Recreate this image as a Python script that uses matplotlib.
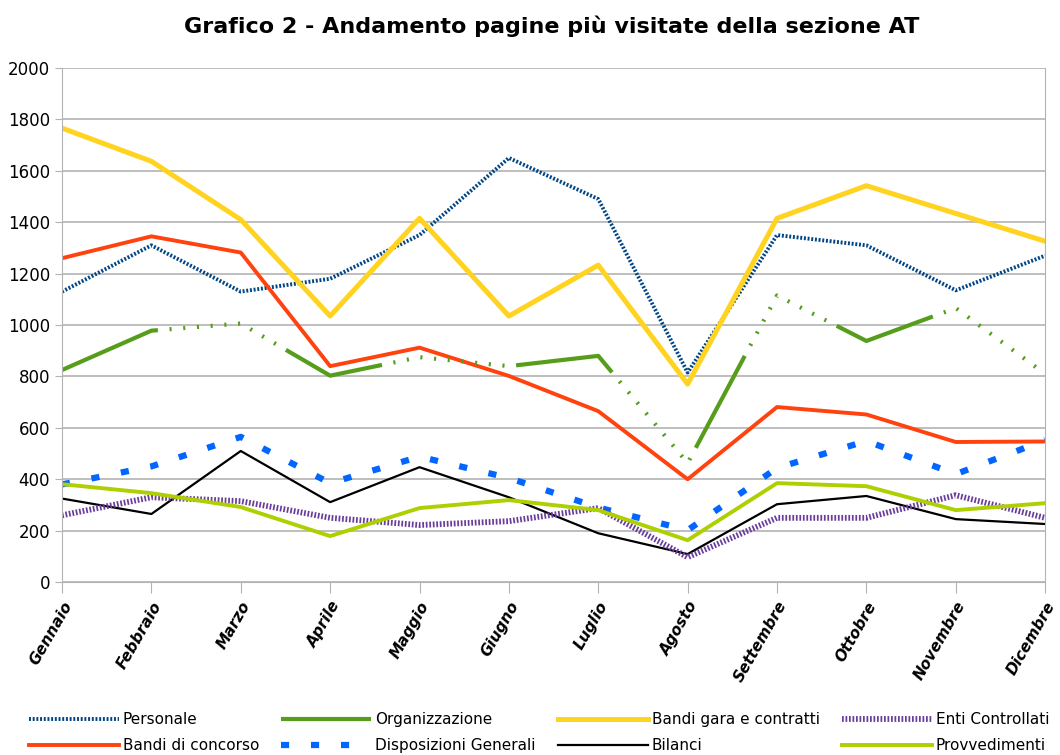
import matplotlib.pyplot as plt

mesi = ["Gennaio", "Febbraio", "Marzo", "Aprile", "Maggio", "Giugno",
        "Luglio", "Agosto", "Settembre", "Ottobre", "Novembre", "Dicembre"]

personale = [1130, 1310, 1130, 1180, 1350, 1650, 1490, 815, 1350, 1310, 1135, 1270]
bandi_concorso = [1260, 1345, 1282, 840, 912, 802, 665, 400, 681, 652, 545, 547]
organizzazione = [825, 978, 1006, 803, 875, 840, 880, 463, 1115, 938, 1066, 810]
disposizioni = [380, 450, 565, 385, 488, 405, 290, 202, 444, 549, 420, 552]
bandi_gara = [1766, 1637, 1410, 1035, 1415, 1035, 1233, 770, 1415, 1542, 1434, 1326]
bilanci = [325, 265, 510, 311, 447, 330, 190, 109, 303, 335, 245, 226]
enti = [260, 330, 315, 250, 222, 237, 288, 97, 250, 250, 338, 250]
provvedimenti = [381, 346, 292, 179, 288, 319, 280, 163, 385, 373, 280, 307]

x = list(range(len(mesi)))

fig = plt.figure(figsize=(10.6, 7.55), dpi=100)
ax = fig.add_axes([0.0585, 0.229, 0.9275, 0.681])

# ordine colonne per la legenda (ncol=4 riempie per colonne)
ax.plot(x, personale, color="#004586", lw=2.8, ls=(0, (0.5, 0.45)), label="Personale")
ax.plot(x, bandi_concorso, color="#ff420e", lw=2.8, label="Bandi di concorso")
ax.plot(x, organizzazione, color="#579d1c", lw=3.0,
        ls=(0, (25, 2.8) + (0.5, 2.8) * 9),
        label="Organizzazione")
ax.plot(x, disposizioni, color="#0066ff", lw=4.5, ls=(0, (1.3, 3.5)), label="Disposizioni Generali")
ax.plot(x, bandi_gara, color="#ffd320", lw=3.6, label="Bandi gara e contratti")
ax.plot(x, bilanci, color="black", lw=1.6, label="Bilanci")
ax.plot(x, enti, color="#6a3d9a", lw=4.2, ls=(0, (0.3, 0.3)), label="Enti Controllati")
ax.plot(x, provvedimenti, color="#aecf00", lw=2.8, label="Provvedimenti")

ax.set_xlim(0, 11)
ax.set_ylim(0, 2000)
ax.set_yticks(range(0, 2001, 200))
ax.set_xticks(x)
ax.set_xticklabels(mesi, rotation=60, ha="right", rotation_mode="anchor",
                   fontweight="bold", fontstyle="oblique", fontsize=11)
ax.tick_params(axis="y", labelsize=12, colors="#b3b3b3", labelcolor="black", length=5)
ax.tick_params(axis="x", colors="#b3b3b3", labelcolor="black", length=8, pad=4)
ax.grid(axis="y", color="#b3b3b3", lw=1.2)
ax.set_axisbelow(True)
for s in ax.spines.values():
    s.set_color("#b3b3b3")
ax.spines["top"].set_visible(False)

fig.suptitle("Grafico 2 - Andamento pagine più visitate della sezione AT",
             fontsize=16, fontweight="bold", x=0.52, y=0.98)

fig.legend(loc="lower left", bbox_to_anchor=(0.014, -0.016), ncol=4, frameon=False,
           fontsize=11, handlelength=5.9, handletextpad=0.25, columnspacing=1.45,
           labelspacing=0.75)

fig.savefig("out.png", dpi=100)
